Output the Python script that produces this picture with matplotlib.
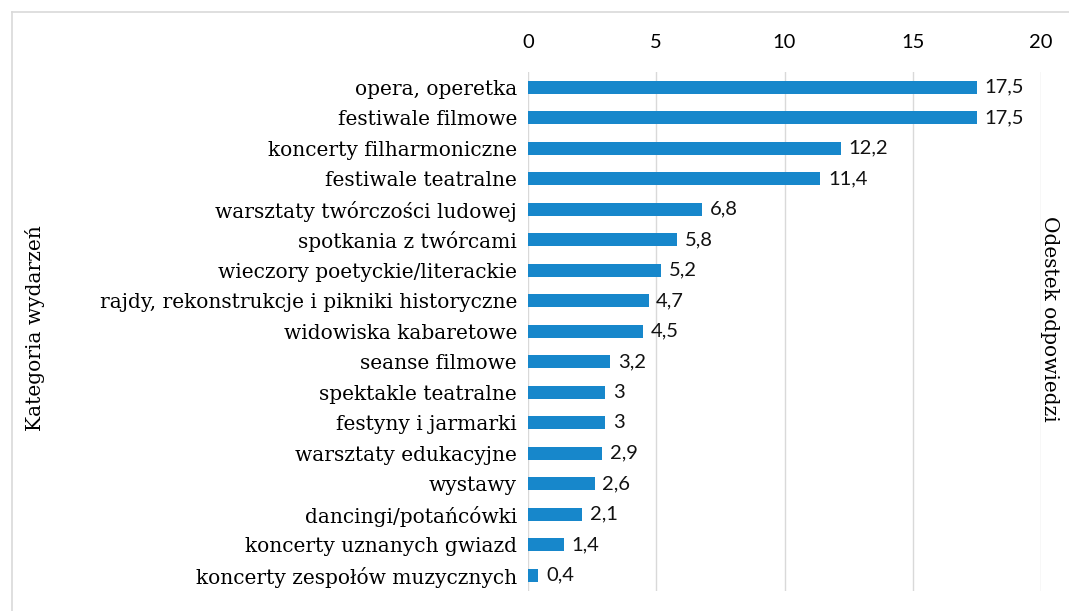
import matplotlib.pyplot as plt
import numpy as np

categories = [
    "opera, operetka",
    "festiwale filmowe",
    "koncerty filharmoniczne",
    "festiwale teatralne",
    "warsztaty twórczości ludowej",
    "spotkania z twórcami",
    "wieczory poetyckie/literackie",
    "rajdy, rekonstrukcje i pikniki historyczne",
    "widowiska kabaretowe",
    "seanse filmowe",
    "spektakle teatralne",
    "festyny i jarmarki",
    "warsztaty edukacyjne",
    "wystawy",
    "dancingi/potańcówki",
    "koncerty uznanych gwiazd",
    "koncerty zespołów muzycznych",
]
values = [17.5, 17.5, 12.2, 11.4, 6.8, 5.8, 5.2, 4.7, 4.5, 3.2, 3, 3, 2.9, 2.6, 2.1, 1.4, 0.4]
xticks = [0, 5, 10, 15, 20]

bar_color = "#1787cb"
grid_color = "#d9d9d9"
serif = "DejaVu Serif"
nums = "Lato"

fig = plt.figure(figsize=(10.69, 6.11), dpi=100)
ax = fig.add_axes([528/1069, 1-590.5/611, 513/1069, 518.5/611])

y = np.arange(len(categories))
ax.barh(y, values, height=0.42, color=bar_color, zorder=3)
ax.set_ylim(len(categories)-0.5, -0.5)
ax.set_xlim(0, 20)

# value labels, comma decimal
for yi, v in zip(y, values):
    s = ("%g" % v).replace(".", ",")
    ax.text(v + 0.3, yi, s, va="center", ha="left", fontsize=14.5, family=nums, color="#111111")

ax.set_xticks(xticks)
ax.set_xticklabels([str(t) for t in xticks], family=nums, fontsize=14.5)
ax.xaxis.tick_top()
ax.tick_params(axis="x", length=0, pad=15)
ax.set_yticks(y)
ax.set_yticklabels(categories, family=serif, fontsize=14.5)
ax.tick_params(axis="y", length=0, pad=8)

for t in xticks:
    ax.axvline(t, color=grid_color, lw=1, zorder=1)
for s in ax.spines.values():
    s.set_visible(False)

fig.text(35/1069, 1-328/611, "Kategoria wydarzeń", rotation=90, va="center", ha="center",
         family=serif, fontsize=14.5)
fig.text(1050/1069, 1-319/611, "Odestek odpowiedzi", rotation=270, va="center", ha="center",
         family=serif, fontsize=14.5)

# outer chart frame
fig.add_artist(plt.Line2D([12/1069, 12/1069], [0, 1-12/611], color=grid_color, lw=1.2))
fig.add_artist(plt.Line2D([12/1069, 1], [1-12/611, 1-12/611], color=grid_color, lw=1.2))

fig.savefig("out.png", dpi=100)
